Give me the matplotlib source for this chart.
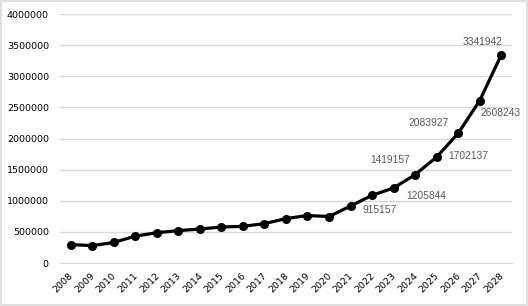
import matplotlib
matplotlib.use("Agg")
import matplotlib.pyplot as plt
from matplotlib.patches import Rectangle
from matplotlib.transforms import ScaledTranslation

years = [str(y) for y in range(2008, 2029)]
values = [295000, 280000, 330000, 432000, 487000, 520000, 546000, 578000, 589000,
          633000, 714000, 763000, 747000, 915157, 1088000, 1205844, 1419157,
          1702137, 2083927, 2608243, 3341942]
label_years = ["2021", "2023", "2024", "2025", "2026", "2027", "2028"]
label_offsets = [(29, -4), (33, -8), (-25, 15), (32, 1), (-30, 10), (21, -12), (-19, 13)]
yticks = list(range(0, 4000001, 500000))

fig = plt.figure(figsize=(5.28, 3.06), dpi=100)
fig.patches.append(Rectangle((0.002, 0.002), 0.996, 0.994, transform=fig.transFigure,
                             fill=False, edgecolor="#d9d9d9", linewidth=1.2))
ax = fig.add_axes([0.1136, 0.1405, 0.856, 0.8135])
x = list(range(len(years)))
ax.plot(x, values, color="black", linewidth=2.3, marker="o", markersize=5.5, zorder=3)
ax.set_xlim(-0.5, len(years) - 0.5)
ax.set_ylim(0, 4000000)
ax.set_yticks(yticks)
ax.set_yticklabels([str(v) for v in yticks])
ax.set_xticks(x)
ax.set_xticklabels(years, rotation=45, ha="right", rotation_mode="anchor")
ax.grid(axis="y", color="#d9d9d9", linewidth=1)
ax.set_axisbelow(True)
for s in ["top", "right", "left"]:
    ax.spines[s].set_visible(False)
ax.spines["bottom"].set_color("#d9d9d9")
ax.tick_params(axis="y", length=0, labelsize=6.8, colors="black", pad=8)
ax.tick_params(axis="x", length=0, labelsize=6.8, colors="black", pad=6)
off = ScaledTranslation(-2 / 100, 0, fig.dpi_scale_trans)
for lbl in ax.get_xticklabels():
    lbl.set_transform(lbl.get_transform() + off)

for yr, (dx, dy) in zip(label_years, label_offsets):
    i = years.index(yr)
    ax.annotate(str(values[i]), (i, values[i]), xytext=(dx, dy), textcoords="offset pixels",
                ha="center", va="center", fontsize=7.4, color="#595959",
                family="Liberation Sans")

fig.savefig("out.png", dpi=100)
